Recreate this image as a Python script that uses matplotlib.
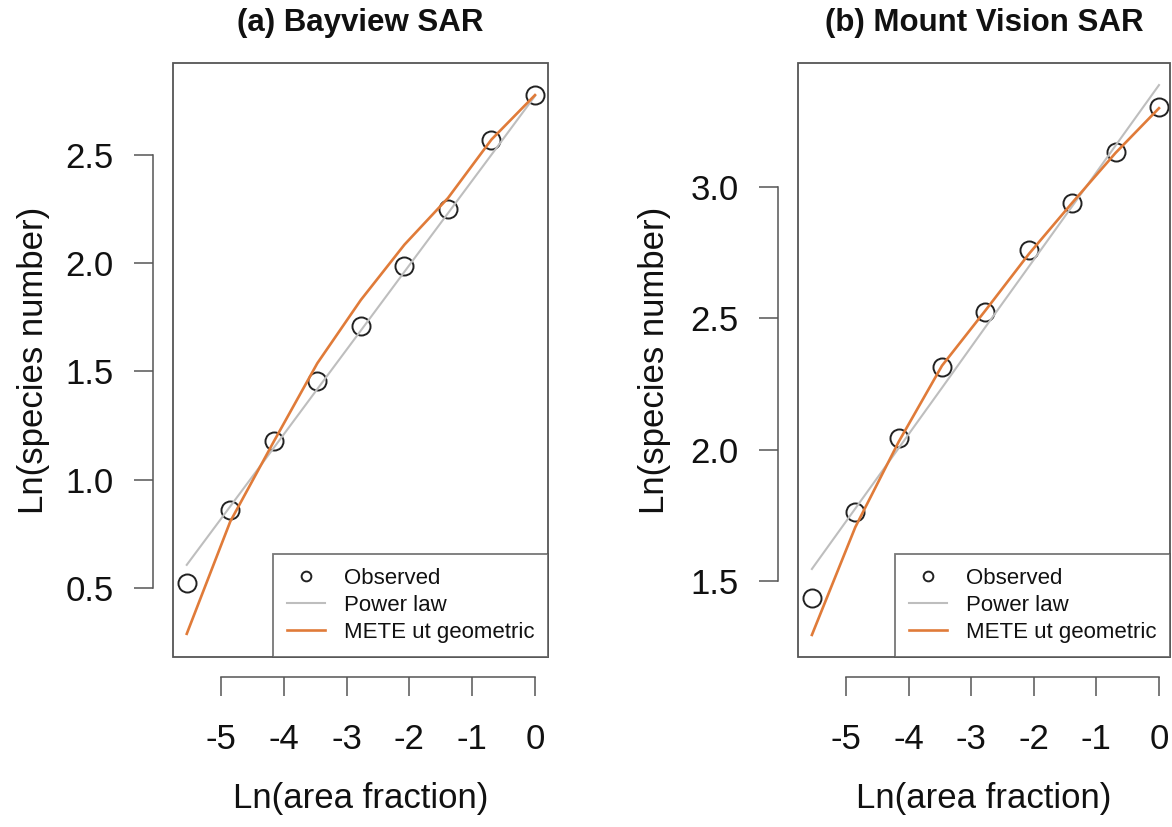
import matplotlib
matplotlib.use("Agg")
import matplotlib.pyplot as plt
from matplotlib.patches import Rectangle

plt.rcParams['font.family'] = ['Liberation Sans', 'DejaVu Sans']
plt.rcParams['axes.unicode_minus'] = False

# ln(area fraction): successive halvings of the plot
ln_area = [-5.545, -4.852, -4.159, -3.466, -2.773, -2.079, -1.386, -0.693, 0.0]

# (a) Bayview
bay_obs = [0.526, 0.862, 1.180, 1.454, 1.712, 1.988, 2.249, 2.566, 2.776]
bay_power = [0.608, 0.878, 1.148, 1.419, 1.689, 1.960, 2.230, 2.500, 2.771]
bay_mete = [0.290, 0.808, 1.177, 1.538, 1.830, 2.085, 2.300, 2.570, 2.775]

# (b) Mount Vision
mv_obs = [1.435, 1.763, 2.045, 2.315, 2.524, 2.760, 2.939, 3.133, 3.305]
mv_power = [1.546, 1.776, 2.006, 2.236, 2.467, 2.697, 2.927, 3.158, 3.388]
mv_mete = [1.295, 1.705, 2.030, 2.320, 2.530, 2.745, 2.940, 3.130, 3.300]

titles = ['(a) Bayview SAR', '(b) Mount Vision SAR']
xticks = [-5, -4, -3, -2, -1, 0]
yticks_a = [0.5, 1.0, 1.5, 2.0, 2.5]
yticks_b = [1.5, 2.0, 2.5, 3.0]

W, H = 1172, 827
fig = plt.figure(figsize=(W / 100, H / 100), dpi=100)

frame_col = '#555555'
gray_col = '#BEBEBE'
orange_col = '#E07B39'


def panel(rect_px, obs, power, mete, title, yticks, xlim, ylim, ylab_right):
    l, r, t, b = rect_px
    ax = fig.add_axes([l / W, 1 - b / H, (r - l) / W, (b - t) / H])
    ax.plot(ln_area, obs, 'o', mfc='none', mec='#222222', ms=13, mew=1.4,
            label='Observed', zorder=2)
    ax.plot(ln_area, power, color=gray_col, lw=1.5, label='Power law', zorder=3)
    ax.plot(ln_area, mete, color=orange_col, lw=1.9,
            label='METE ut geometric', zorder=4)
    ax.set_xlim(*xlim)
    ax.set_ylim(*ylim)

    # box around the plot region, axes drawn detached (R style)
    ax.add_patch(Rectangle((0, 0), 1, 1, transform=ax.transAxes, fill=False,
                           ec=frame_col, lw=1.3, clip_on=False, zorder=5))
    ax.spines['top'].set_visible(False)
    ax.spines['right'].set_visible(False)
    for side in ['left', 'bottom']:
        ax.spines[side].set_position(('outward', 14.5))
        ax.spines[side].set_color(frame_col)
        ax.spines[side].set_linewidth(1.1)
    ax.spines['bottom'].set_bounds(xticks[0], xticks[-1])
    ax.spines['left'].set_bounds(yticks[0], yticks[-1])
    ax.set_xticks(xticks)
    ax.set_xticklabels([str(v) for v in xticks])
    ax.set_yticks(yticks)
    ax.set_yticklabels(['%.1f' % v for v in yticks])
    ax.tick_params(axis='both', length=14, width=1.1, color=frame_col,
                   labelsize=25, labelcolor='#111111')
    ax.tick_params(axis='x', pad=19)
    ax.tick_params(axis='y', pad=14)

    ax.set_xlabel('Ln(area fraction)', fontsize=25, color='#111111')
    ax.set_ylabel('Ln(species number)', fontsize=25, color='#111111')
    ax.xaxis.set_label_coords(0.5, (b - 782) / (b - t))
    ax.yaxis.set_label_coords((ylab_right - l) / (r - l), 0.5)
    ax.text(0.5, 1 + 40 / (b - t), title, transform=ax.transAxes,
            ha='center', va='center', fontsize=22.5, fontweight='bold',
            color='#111111')

    leg = ax.legend(loc='lower right', fontsize=16, frameon=True,
                    fancybox=False, borderaxespad=0, handlelength=1.7,
                    handletextpad=0.85, labelspacing=0.28, borderpad=0.62,
                    edgecolor=frame_col)
    leg.get_frame().set_linewidth(1.3)
    leg.legend_handles[0].set_markersize(7)
    for txt in leg.get_texts():
        txt.set_color('#111111')
    return ax


panel((173, 548, 63, 657), bay_obs, bay_power, bay_mete, titles[0],
      yticks_a, (-5.764, 0.207), (0.183, 2.923), 50)
panel((798, 1170, 63, 657), mv_obs, mv_power, mv_mete, titles[1],
      yticks_b, (-5.767, 0.176), (1.211, 3.472), 671)

fig.savefig('out.png', dpi=100)
